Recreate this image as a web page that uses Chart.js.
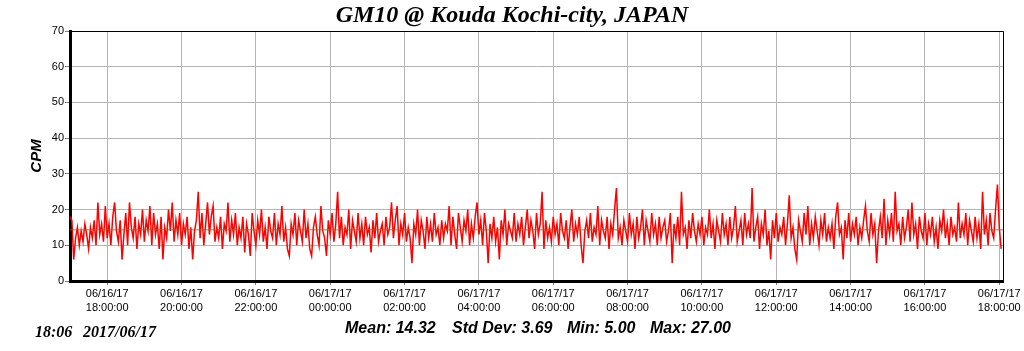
<!DOCTYPE html>
<html>
<head>
<meta charset="utf-8">
<script src="https://cdn.jsdelivr.net/npm/chart.js@4/dist/chart.umd.min.js"></script>
<style>
  html, body { margin:0; padding:0; background:#fff; }
  #wrap { width:1024px; height:351px; }
</style>
</head>
<body>
<div id="wrap"><canvas id="c" width="1024" height="351"></canvas></div>
<script>
// counts per minute, one reading every 3 minutes from 06/16 17:00
const cpm = [
  18,17,6,12,15,10,14,11,16,13,9,15,12,17,10,22,13,16,11,21,
  12,16,10,18,22,14,11,17,6,13,19,10,22,15,12,18,9,16,13,20,
  11,17,14,21,10,19,13,16,9,18,6,15,12,20,14,22,11,17,13,19,
  10,16,13,18,9,15,6,14,17,25,12,19,10,16,22,13,18,21,11,15,
  12,18,9,16,14,22,11,17,13,19,10,15,12,18,8,16,13,7,19,14,
  10,17,13,20,11,15,9,18,14,12,19,10,16,13,21,11,15,9,7,16,
  13,19,10,17,14,11,20,12,16,9,7,15,18,13,10,21,14,12,7,17,
  13,19,11,16,25,12,18,10,15,13,20,9,17,14,11,19,12,16,10,18,
  13,15,8,17,12,19,11,14,16,10,18,13,15,22,12,17,21,10,16,13,
  19,11,15,12,5,16,13,20,10,17,14,9,18,12,16,11,19,13,15,10,
  17,12,16,14,21,10,18,13,9,19,15,11,17,14,20,10,16,12,18,22,
  13,17,10,19,14,5,16,12,18,11,15,6,17,13,20,10,16,14,12,19,
  11,16,13,18,10,15,20,12,17,14,9,19,13,16,25,9,17,12,15,11,
  18,13,16,10,19,14,12,17,9,15,20,11,16,13,18,10,5,14,17,12,
  19,11,15,13,21,10,17,14,12,18,9,16,13,20,26,12,15,10,17,14,
  11,19,13,16,9,18,12,15,20,10,17,14,11,19,13,16,10,18,12,15,
  17,11,14,19,5,16,12,18,10,25,13,15,9,17,12,19,14,11,16,13,
  18,10,15,13,20,12,16,9,17,14,11,19,13,16,10,18,12,15,21,11,
  14,17,10,19,13,16,12,26,11,15,18,9,16,13,20,10,14,6,17,12,
  19,11,15,13,18,10,16,24,12,15,9,6,17,14,11,19,13,21,10,16,
  12,18,14,10,17,13,19,11,15,12,16,9,18,22,13,15,6,17,12,19,
  11,16,13,18,10,15,12,17,21,14,11,19,13,16,5,14,18,12,23,10,
  17,13,19,11,25,14,16,10,18,12,15,20,11,22,13,16,9,18,14,12,
  19,10,16,13,18,11,15,9,17,14,20,12,16,10,18,13,15,11,22,12,
  16,13,19,10,17,14,11,18,12,16,9,25,13,17,10,19,14,12,20,27,
  15,9
];
const startMin = 1020;   // 06/16 17:00, minutes since 06/16 00:00
const stepMin = 3;
const endMin = 2526;     // 06/17 18:06

const tickMinutes = [1080,1200,1320,1440,1560,1680,1800,1920,2040,2160,2280,2400,2520];
const tickLabels = [
  ['06/16/17','18:00:00'],['06/16/17','20:00:00'],['06/16/17','22:00:00'],
  ['06/17/17','00:00:00'],['06/17/17','02:00:00'],['06/17/17','04:00:00'],
  ['06/17/17','06:00:00'],['06/17/17','08:00:00'],['06/17/17','10:00:00'],
  ['06/17/17','12:00:00'],['06/17/17','14:00:00'],['06/17/17','16:00:00'],
  ['06/17/17','18:00:00']
];

const chartTitle = 'GM10 @ Kouda Kochi-city, JAPAN';
const stampTime = '18:06';
const stampDate = '2017/06/17';
const meanVal = 14.32;
const stats = ['Mean: 14.32', 'Std Dev: 3.69', 'Min: 5.00', 'Max: 27.00'];

const points = cpm.map((v, i) => ({ x: startMin + i * stepMin, y: v }));

const frame = {
  id: 'frame',
  afterDraw(chart) {
    const { ctx, chartArea: a } = chart;
    ctx.save();
    ctx.strokeStyle = '#000';
    ctx.lineWidth = 1;
    ctx.beginPath();
    ctx.moveTo(a.left, a.top + 0.5); ctx.lineTo(a.right + 0.5, a.top + 0.5);
    ctx.lineTo(a.right + 0.5, a.bottom);
    ctx.stroke();

    ctx.fillStyle = '#000';
    ctx.textBaseline = 'alphabetic';
    ctx.textAlign = 'center';
    ctx.font = 'italic bold 24px "Liberation Serif", serif';
    ctx.fillText(chartTitle, 512, 22);

    ctx.textAlign = 'left';
    ctx.font = 'italic bold 16px "Liberation Serif", serif';
    ctx.fillText(stampTime, 35, 337);
    ctx.fillText(stampDate, 83, 337);

    ctx.font = 'italic bold 16px "Liberation Sans", Arial, sans-serif';
    const xs = [345, 452, 567, 650];
    stats.forEach((s, i) => ctx.fillText(s, xs[i], 333));
    ctx.restore();
  }
};

new Chart(document.getElementById('c').getContext('2d'), {
  type: 'line',
  data: {
    datasets: [
      { label: 'mean', data: [{x:startMin, y:meanVal},{x:endMin, y:meanVal}],
        borderColor: 'rgba(150,95,40,0.85)', borderWidth: 1, pointRadius: 0, order: 0 },
      { label: 'CPM', data: points, borderColor: '#ff0000', borderWidth: 1.5,
        pointRadius: 0, tension: 0, order: 1 }
    ]
  },
  options: {
    responsive: false, animation: false, devicePixelRatio: 1,
    layout: { padding: { top: 31, right: 21, bottom: 0, left: 0 } },
    plugins: { legend: { display: false }, tooltip: { enabled: false }, title: { display: false } },
    scales: {
      x: {
        type: 'linear', min: startMin, max: endMin,
        afterBuildTicks: s => { s.ticks = tickMinutes.map(v => ({ value: v })); },
        afterFit: s => { s.height = 70; },
        grid: { color: '#b4b4b4', tickColor: '#808080', tickLength: 4 },
        border: { color: '#000', width: 3 },
        ticks: {
          autoSkip: false, maxRotation: 0, padding: 2, color: '#000',
          font: { family: '"Liberation Sans", Arial, sans-serif', size: 11, lineHeight: 1.27 },
          callback: v => { const i = tickMinutes.indexOf(v); return i < 0 ? '' : tickLabels[i]; }
        }
      },
      y: {
        min: 0, max: 70,
        afterFit: s => { s.width = 70; },
        grid: { color: '#b4b4b4', tickColor: '#808080', tickLength: 5 },
        border: { color: '#000', width: 3 },
        ticks: { stepSize: 10, padding: 1, color: '#000',
          font: { family: '"Liberation Sans", Arial, sans-serif', size: 11 } },
        title: { display: true, text: 'CPM', color: '#000', padding: { top: 28, bottom: 0 },
          font: { family: '"Liberation Sans", Arial, sans-serif', size: 15, style: 'italic', weight: 'bold' } }
      }
    }
  },
  plugins: [frame]
});
</script>
</body>
</html>
